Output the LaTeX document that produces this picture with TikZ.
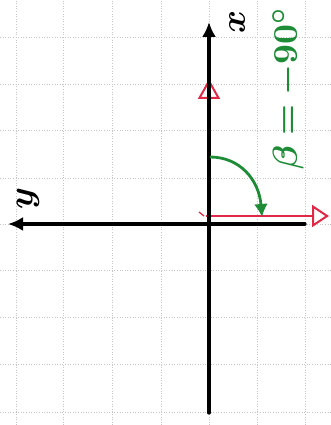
\documentclass[tikz,border=0pt]{standalone}
\usepackage{amsmath}
\usepackage{bm}
\usepackage{graphicx}
\usetikzlibrary{arrows.meta}
\definecolor{pengreen}{RGB}{30,140,55}
\definecolor{penred}{RGB}{225,40,70}
\tikzset{
  gridline/.style={gray!45, dotted, line width=0.6pt},
  axis/.style={black, line width=3.2pt, line cap=round},
  redline/.style={penred, line width=2pt},
  arcline/.style={pengreen, line width=2.8pt},
  lbl/.style={rotate=90, inner sep=0pt}
}
\begin{document}
\begin{tikzpicture}[x=1pt,y=1pt]
\useasboundingbox (0,0) rectangle (331,425);
\fill[white] (0,0) rectangle (331,425);
% grid
\foreach \gx in {16,63,112,161,209,257,305}
  \draw[gridline] (\gx,0) -- (\gx,425);
\foreach \gy in {388,341,295,247,201,155,108,61,13}
  \draw[gridline] (0,\gy) -- (331,\gy);
% coordinates
\coordinate (O) at (209,201);
\coordinate (vbot) at (209,12);
\coordinate (vtop) at (209,403);
\coordinate (hright) at (305,201);
\coordinate (hleft) at (8,201);
\coordinate (rO) at (206,209);
\coordinate (rtop) at (209,346);
\coordinate (rright) at (329,209);
\coordinate (tickA) at (199,213);
\coordinate (tickB) at (204,209);
\coordinate (arcS) at (210,268);
\coordinate (arcE) at (262,208);
% red arrows (under the axes)
\draw[redline, -{Triangle[open,length=20pt,width=22pt]}] (O) -- (rtop);
\draw[redline, -{Triangle[open,length=17pt,width=22pt]}] (rO) -- (rright);
\draw[redline, line width=1.3pt] (tickA) -- (tickB);
% axes
\draw[axis, -{Latex[length=15pt,width=14pt]}] (vbot) -- (vtop);
\draw[axis, -{Latex[length=15pt,width=14pt]}] (hright) -- (hleft);
% green arc
\draw[arcline, -{Latex[length=13pt,width=14pt]}] (arcS) .. controls (240,268) and (259,245) .. (arcE);
% labels
\node[lbl] (xl) at (237,403) {\resizebox{23pt}{!}{$\bm{x}$}};
\node[lbl] (yl) at (28,226) {\resizebox{22pt}{!}{$\bm{y}$}};
\node[lbl, text=pengreen] (beta) at (288,337) {\resizebox{163pt}{!}{$\bm{\beta = -90^\circ}$}};
\end{tikzpicture}
\end{document}
